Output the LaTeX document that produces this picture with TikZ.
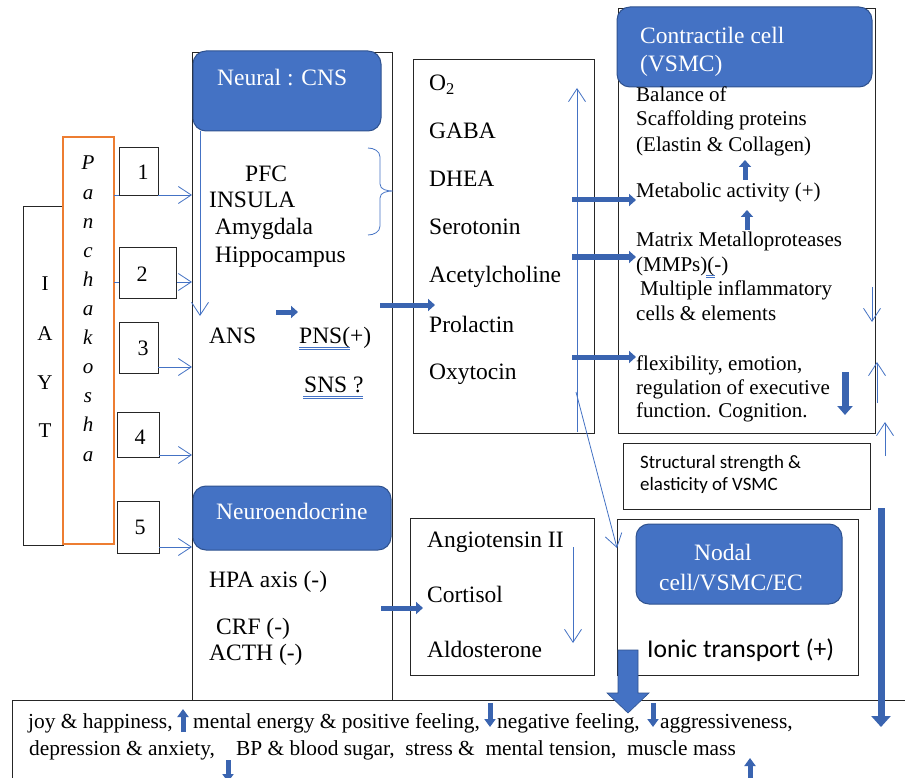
\documentclass[tikz,border=0pt]{standalone}
\usepackage{fontspec}
\setmainfont{Liberation Serif}
\newfontfamily\calib{Carlito}
\usetikzlibrary{arrows.meta,calc}
\definecolor{ablue}{HTML}{4472C4}
\definecolor{bblue}{HTML}{2F528F}
\definecolor{dblue}{HTML}{3A64B0}
\definecolor{korange}{HTML}{ED7D31}
\newcommand\tfs{\fontsize{21}{25}\selectfont}
\newcommand\bfs{\fontsize{23.5}{27}\selectfont}
\newcommand\ffs{\fontsize{21.4}{25}\selectfont}
\begin{document}
\begin{tikzpicture}[x=1pt,y=-1pt,
  txt/.style={anchor=base west, inner sep=0pt, font=\tfs},
  btxt/.style={anchor=base west, inner sep=0pt, font=\bfs},
  ftxt/.style={anchor=base west, inner sep=0pt, font=\ffs},
  ctxt/.style={anchor=base, inner sep=0pt, font=\tfs},
  wtxt/.style={anchor=base west, inner sep=0pt, font=\bfs, text=white},
  bx/.style={draw=black!85, line width=0.9pt, fill=white, anchor=north west, inner sep=0pt, outer sep=0pt},
  bluebox/.style={fill=ablue, draw=bblue, line width=1pt, rounded corners=13pt, anchor=north west, inner sep=0pt, outer sep=0pt},
  thn/.style={draw=ablue, line width=0.8pt, -{Straight Barb[length=13pt,width=17pt]}},
  thk/.style={draw=dblue, line width=5pt, -{Triangle[length=7pt,width=12pt]}},
  thkb/.style={draw=dblue, line width=7pt, -{Triangle[length=9pt,width=15pt]}},
  sml/.style={draw=dblue, line width=5pt, -{Triangle[length=8pt,width=11pt]}},
  uline/.style={draw=ablue, line width=0.5pt}]
\useasboundingbox (0,0) rectangle (905,778);
\fill[white] (0,0) rectangle (905,778);

% bottom box
\node[bx, minimum width=910pt, minimum height=120pt] (bottom) at (12,700) {};

% left boxes
\node[bx, minimum width=40pt, minimum height=339pt] (iayt) at (23,206) {};
\node[bx, draw=korange, line width=1.5pt, minimum width=51pt, minimum height=407pt] (pancha) at (63,137) {};
\node[bx, minimum width=200pt, minimum height=648pt] (col) at (192,52) {};
\node[bx, minimum width=181pt, minimum height=374pt] (mid1) at (413,59) {};
\node[bx, minimum width=184pt, minimum height=157pt] (mid2) at (410,518) {};
\node[bx, minimum width=257pt, minimum height=425pt] (right1) at (618,8) {};
\node[bx, minimum width=247pt, minimum height=66pt] (struct) at (623,443) {};
\node[bx, minimum width=241pt, minimum height=156pt] (nodalbox) at (617,519) {};

% blue boxes
\node[bluebox, minimum width=188pt, minimum height=80pt] (cns) at (193,51) {};
\node[bluebox, minimum width=198pt, minimum height=64pt] (neuro) at (193,486) {};
\node[bluebox, minimum width=255pt, minimum height=80pt] (contr) at (617,7) {};
\node[bluebox, minimum width=206pt, minimum height=80pt] (nodal) at (636,524) {};

% IAYT letters
\foreach \l/\yy [count=\i] in {I/290,A/340,Y/389,T/437}
  \node[ctxt] (iay\i) at (45,\yy) {\l};
% Panchakosha letters
\foreach \l [count=\i] in {P,a,n,c,h,a,k,o,s,h,a}
  \node[ctxt] (pk\i) at (88,{170+29.1*(\i-1)}) {\textit{\l}};

% arrows from panchakosha to column (behind number boxes)
\coordinate (a1) at (114,195);
\draw[thn] (a1) -- (a1 -| col.west);
\coordinate (a2) at (114,282);
\draw[thn] (a2) -- (a2 -| col.west);

% number boxes
\node[bx, minimum width=39pt, minimum height=48pt] (b1) at (119,147) {};
\node[bx, minimum width=57pt, minimum height=51pt] (b2) at (119,247) {};
\node[bx, minimum width=39pt, minimum height=51pt] (b3) at (119,322) {};
\node[bx, minimum width=42pt, minimum height=45pt] (b4) at (117,412) {};
\node[bx, minimum width=42pt, minimum height=52pt] (b5) at (117,501) {};
\node[ctxt, font=\fontsize{22}{26}\selectfont] (n1) at (143,180) {1};
\node[ctxt, font=\fontsize{22}{26}\selectfont] (n2) at (142,281) {2};
\node[ctxt, font=\fontsize{22}{26}\selectfont] (n3) at (143,355) {3};
\node[ctxt, font=\fontsize{22}{26}\selectfont] (n4) at (140,444) {4};
\node[ctxt, font=\fontsize{22}{26}\selectfont] (n5) at (140,534) {5};
\draw[draw=ablue, line width=0.8pt] (a1 -| b1.east) -- ++(8,0);
\coordinate (a3) at (158,367);
\draw[thn] (a3) -- (a3 -| col.west);
\coordinate (a4) at (159,455);
\draw[thn] (a4) -- (a4 -| col.west);
\coordinate (a5) at (159,547);
\draw[thn] (a5) -- (a5 -| col.west);

% column texts
\node[wtxt] (tcns) at (217,86) {Neural : CNS};
\draw[uline] (217,91) -- (300,91);
\node[btxt] (tpfc) at (245,182) {PFC};
\node[btxt] (tins) at (209,208) {INSULA};
\node[btxt] (tamy) at (215,235) {Amygdala};
\node[btxt] (thip) at (215,262) {Hippocampus};
\node[btxt] (tans) at (209,343) {ANS};
\node[btxt] (tpns) at (299,343) {PNS(+)};
\node[btxt] (tsns) at (304,392) {SNS ?};
\draw[uline] (299,347) -- (350,347) (299,349.5) -- (350,349.5);
\draw[uline] (303,396) -- (363,396) (303,398.5) -- (363,398.5);
\draw[draw=ablue, line width=0.8pt] (368,148) to[out=0,in=90] (380,157) -- (380,184) to[out=-90,in=180] (393,191) to[out=180,in=90] (380,198) -- (380,226) to[out=-90,in=0] (368,235);
\coordinate (d0) at (200,131);
\coordinate (d1) at (200,316);
\draw[thn] (d0) -- (d1);
\coordinate (t1s) at (276,312);
\coordinate (t1e) at (298,312);
\draw[thk] (t1s) -- (t1e);

\node[wtxt] (tneuro) at (216,519) {Neuroendocrine};
\node[btxt] (thpa) at (209,587) {HPA axis (-)};
\node[btxt] (tcrf) at (216,634) {CRF (-)};
\node[btxt] (tacth) at (209,660) {ACTH (-)};

% middle texts
\node[btxt] (to2) at (429,91) {O\textsubscript{2}};
\node[btxt] (tgaba) at (429,139) {GABA};
\node[btxt] (tdhea) at (429,187) {DHEA};
\node[btxt] (tser) at (429,235) {Serotonin};
\node[btxt] (tace) at (429,282) {Acetylcholine};
\node[btxt] (tpro) at (429,332) {Prolactin};
\node[btxt] (toxy) at (429,379) {Oxytocin};
\node[btxt] (tang) at (427,547) {Angiotensin II};
\node[btxt] (tcor) at (427,602) {Cortisol};
\node[btxt] (tald) at (427,657) {Aldosterone};

\coordinate (m0) at (577,432);
\coordinate (m1) at (577,88);
\draw[thn] (m0) -- (m1);
\coordinate (g0) at (576,392);
\coordinate (g1) at (617,548);
\draw[thn] (g0) -- (g1);
\coordinate (k0) at (573,547);
\coordinate (k1) at (573,643);
\draw[thn] (k0) -- (k1);

\coordinate (t2s) at (380,305);
\coordinate (t2e) at (435,305);
\draw[thk] (t2s) -- (t2e);
\coordinate (t6s) at (381,608);
\coordinate (t6e) at (423,608);
\draw[thk] (t6s) -- (t6e);

% right texts
\node[wtxt] (tcon1) at (640,44) {Contractile cell};
\node[wtxt] (tcon2) at (640,72) {(VSMC)};
\node[txt] (tbal) at (636,102) {Balance of};
\node[txt] (tsca) at (636,126) {Scaffolding proteins};
\node[txt] (tela) at (636,152) {(Elastin \& Collagen)};
\node[txt] (tmet) at (636,198) {Metabolic activity (+)};
\node[txt] (tmat) at (636,247) {Matrix Metalloproteases};
\node[txt] (tmmp) at (636,272) {(MMPs)(-)};
\draw[uline] (706,275) -- (715,275) (706,277.5) -- (715,277.5);
\node[txt] (tmul) at (640,295) {Multiple inflammatory};
\node[txt] (tcel) at (636,320) {cells \& elements};
\node[txt] (tfle) at (636,370) {flexibility, emotion,};
\node[txt] (treg) at (636,394) {regulation of executive};
\node[txt] (tfun) at (636,417) {function. Cognition.};

\coordinate (t3s) at (572,200);
\draw[thk] (t3s) -- (t3s -| tmet.west);
\coordinate (t4s) at (572,257);
\draw[thk] (t4s) -- (t4s -| tmat.west);
\coordinate (t5s) at (572,357);
\draw[thk] (t5s) -- (t5s -| tfle.west);
\coordinate (u1s) at (745,180);
\coordinate (u1e) at (745,160);
\draw[thk] (u1s) -- (u1e);
\coordinate (u2s) at (747,230);
\coordinate (u2e) at (747,210);
\draw[thk] (u2s) -- (u2e);
\coordinate (v1s) at (845,372);
\coordinate (v1e) at (845,415);
\draw[thkb] (v1s) -- (v1e);

\coordinate (r1s) at (872,287);
\coordinate (r1e) at (872,322);
\draw[thn] (r1s) -- (r1e);
\coordinate (r2s) at (877,403);
\coordinate (r2e) at (877,362);
\draw[thn] (r2s) -- (r2e);
\coordinate (r3s) at (885,456);
\coordinate (r3e) at (885,422);
\draw[thn] (r3s) -- (r3e);

\node[anchor=base west, inner sep=0pt, font=\calib\fontsize{18.9}{22}\selectfont] (tstr1) at (640,468) {Structural strength \&};
\node[anchor=base west, inner sep=0pt, font=\calib\fontsize{18.9}{22}\selectfont] (tstr2) at (640,490) {elasticity of VSMC};

\node[wtxt] (tnod1) at (694,560) {Nodal};
\node[wtxt] (tnod2) at (659,590) {cell/VSMC/EC};
\node[anchor=base west, inner sep=0pt, font=\calib\fontsize{25.6}{30}\selectfont] (tion) at (647,657) {Ionic transport (+)};

% long right arrow
\coordinate (L0) at (881,508);
\coordinate (L1) at (881,727);
\draw[draw=dblue, line width=7pt, -{Triangle[length=11pt,width=19pt]}] (L0) -- (L1);

% big down arrow
\fill[ablue, draw=bblue, line width=0.6pt] (618,650) -- (638,650) -- (638,693) -- (649,693) -- (628,713) -- (607,693) -- (618,693) -- cycle;

% bottom texts
\node[ftxt] (bl1) at (28,728) {joy \& happiness,};
\node[ftxt] (bl2) at (193,728) {mental energy \& positive feeling,};
\node[ftxt] (bl3) at (497,728) {negative feeling,};
\node[ftxt] (bl4) at (660,728) {aggressiveness,};
\node[ftxt] (bl5) at (29,755) {depression \& anxiety,};
\node[ftxt] (bl6) at (236,755) {BP \& blood sugar,\ \ stress \&\ \ mental tension,\ \ muscle mass};
\coordinate (s1s) at (183,732);
\coordinate (s1e) at (183,709);
\draw[sml] (s1s) -- (s1e);
\coordinate (s2s) at (490,703);
\coordinate (s2e) at (490,727);
\draw[sml] (s2s) -- (s2e);
\coordinate (s3s) at (653,703);
\coordinate (s3e) at (653,727);
\draw[sml] (s3s) -- (s3e);
\coordinate (s4s) at (228,760);
\coordinate (s4e) at (228,782);
\draw[sml] (s4s) -- (s4e);
\coordinate (s5s) at (750,782);
\coordinate (s5e) at (750,758);
\draw[sml] (s5s) -- (s5e);
\end{tikzpicture}
\end{document}
